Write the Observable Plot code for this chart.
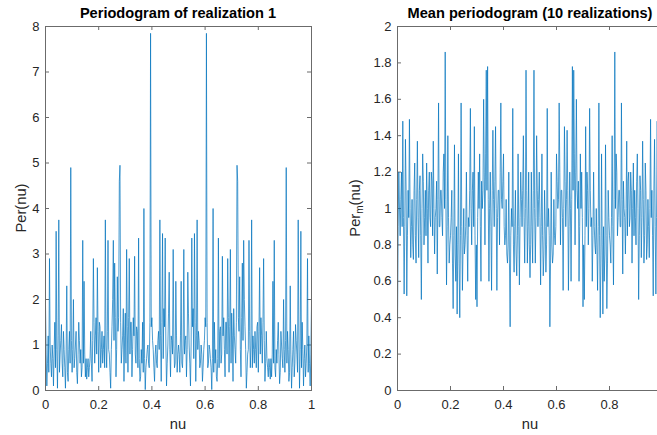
<!DOCTYPE html>
<html><head><meta charset="utf-8">
<script src="https://cdn.jsdelivr.net/npm/d3@7"></script>
<script src="https://cdn.jsdelivr.net/npm/@observablehq/plot@0.6"></script>
<style>
body{margin:0;background:#fff;}
#wrap{position:relative;width:657px;height:435px;overflow:hidden;font-family:"Liberation Sans",Arial,sans-serif;color:#262626;background:#fff;}
.pl{position:absolute;top:0;}
.pl svg{max-width:none !important;}
.title{position:absolute;top:5px;font-weight:bold;font-size:14.6px;color:#000;white-space:nowrap;transform:translateX(-50%);}
.xl{position:absolute;font-size:14.7px;transform:translate(-50%,-50%);white-space:nowrap;}
.yl{position:absolute;font-size:14.7px;transform:translate(-50%,-50%) rotate(-90deg);white-space:nowrap;}
.yl sub{font-size:10px;}
</style></head><body><div id="wrap">
<div class="pl" id="p1" style="left:0;width:330px"></div>
<div class="pl" id="p2" style="left:330px;width:340px"></div>
<div class="title" style="left:178px">Periodogram of realization 1</div>
<div class="title" style="left:530px">Mean periodogram (10 realizations)</div>
<div class="xl" style="left:178px;top:424px">nu</div>
<div class="xl" style="left:530px;top:424px">nu</div>
<div class="yl" style="left:21px;top:208px">Per(nu)</div>
<div class="yl" style="left:356px;top:208px">Per<sub>m</sub>(nu)</div>
</div>
<script>
// frequency grid step (nu from 0 to 1)
const nuStep = 0.0025;

// Periodogram of realization 1, nu = 0 ... 0.5
const perRealization1Low = [
 1.9,0.8,0.1,0.6,1.2,0.4,2.9,1.0,0.6,0.3,
 1.0,0.7,0.1,0.9,1.5,0.5,3.5,0.9,0.05,1.2,
 3.75,0.4,0.8,1.1,1.45,0.6,0.3,1.3,0.9,0.5,
 0.05,0.8,2.3,0.4,0.2,0.9,1.3,0.6,4.9,1.1,
 0.4,0.9,2.0,0.5,0.7,1.0,1.3,0.4,0.15,0.8,
 1.5,1.1,0.6,0.9,0.3,0.5,3.3,0.6,2.4,0.8,
 0.3,0.7,0.25,0.5,0.7,0.3,0.5,0.7,1.3,0.6,
 0.2,1.1,2.9,1.5,0.6,1.2,1.6,0.8,2.7,1.3,
 0.4,1.5,1.4,0.5,0.9,1.3,0.6,0.9,1.2,0.5,
 3.75,1.0,0.5,1.3,3.3,0.9,0.8,0.4,0.05,0.9,
 1.4,2.0,3.3,1.1,2.8,1.6,0.3,0.9,2.5,1.3,
 1.6,4.6,4.95,1.5,0.6,0.9,1.2,1.8,0.2,1.2,
 1.7,0.6,3.1,1.4,0.4,1.6,2.9,0.8,1.5,1.5,
 0.3,0.9,1.6,1.2,2.95,0.8,0.6,1.4,1.3,0.5,
 3.35,0.7,0.2,0.3,0.9,0.6,1.5,0.4,4.0,0.7,
 0.02,0.5,0.7,0.9,1.0,0.6,0.5,1.5,7.85,1.4,
 1.6,1.1,0.9,0.5,0.2,0.8,1.0,0.6,0.5,1.1,
 1.3,0.9,3.75,1.2,0.2,1.5,3.45,0.7,1.8,1.4,
 3.35,1.0,0.1,0.6,1.0,1.7,2.6,0.9,0.3,1.2,
 1.1,0.8,3.1,1.0,0.5,0.6,2.4,1.2,0.4,0.8,
 1.0
];
// Periodogram of realization 1, nu = 0.5025 ... 1
const perRealization1High = [
 0.8,0.4,1.2,2.4,0.6,0.5,1.0,3.1,0.8,1.1,
 1.2,0.3,0.9,2.6,1.7,1.0,0.6,0.1,1.0,3.35,
 1.4,1.8,0.7,3.45,1.5,0.2,1.2,3.75,0.9,1.3,
 1.1,0.5,0.6,1.0,0.8,0.2,0.5,0.9,1.1,1.6,
 1.4,7.85,1.5,0.5,0.6,1.0,0.9,0.7,0.5,0.02,
 0.7,4.0,0.4,1.5,0.6,0.9,0.3,0.2,0.7,3.35,
 0.5,1.3,1.4,0.6,0.8,2.95,1.2,1.6,0.9,0.3,
 1.5,1.5,0.8,2.9,1.6,0.4,1.4,3.1,0.6,1.7,
 1.2,0.2,1.8,1.2,0.9,0.6,1.5,4.95,4.6,1.6,
 1.3,2.5,0.9,0.3,1.6,2.8,1.1,3.3,2.0,1.4,
 0.9,0.05,0.4,0.8,0.9,3.3,1.3,0.5,1.0,3.75,
 0.5,1.2,0.9,0.6,1.3,0.9,0.5,1.4,1.5,0.4,
 1.3,2.7,0.8,1.6,1.2,0.6,1.5,2.9,1.1,0.2,
 0.6,1.3,0.7,0.5,0.3,0.7,0.5,0.25,0.7,0.3,
 0.8,2.4,0.6,3.3,0.5,0.3,0.9,0.6,1.1,1.5,
 0.8,0.15,0.4,1.3,1.0,0.7,0.5,2.0,0.9,0.4,
 1.1,4.9,0.6,1.3,0.9,0.2,0.4,2.3,0.8,0.05,
 0.5,0.9,1.3,0.3,0.6,1.45,1.1,0.8,0.4,3.75,
 1.2,0.05,0.9,3.5,0.5,1.5,0.9,0.1,0.7,1.0,
 0.3,0.6,1.0,2.9,0.4,1.2,0.6,0.1,0.8,1.9
];

// Mean periodogram (10 realizations), nu = 0 ... 0.5
const perMeanLow = [
 0.33,0.9,1.2,1.0,0.85,1.05,1.2,0.9,1.48,0.95,
 0.53,0.9,1.38,1.1,0.52,0.85,1.1,0.95,1.49,1.0,
 0.73,0.9,1.05,0.8,0.72,1.1,1.25,0.85,0.7,1.05,
 1.37,0.95,0.73,1.1,1.18,0.85,0.5,1.0,1.3,1.15,
 0.8,0.95,1.1,0.85,1.25,1.0,0.7,1.1,1.2,0.95,
 0.9,1.2,1.15,0.85,1.37,1.0,0.75,0.95,1.0,1.15,
 0.64,1.05,1.58,0.9,0.9,1.1,1.1,0.95,0.85,1.2,
 1.3,1.0,1.86,1.05,0.58,0.9,1.4,0.95,0.7,0.8,
 0.85,0.95,1.1,0.7,0.45,0.85,1.35,0.75,0.6,0.9,
 0.42,0.8,1.3,0.7,0.4,0.85,1.58,0.9,0.55,0.8,
 1.0,0.75,0.8,0.9,1.2,0.85,0.6,0.95,0.9,1.1,
 1.55,1.0,0.8,1.1,1.2,0.9,1.45,0.85,0.5,0.8,
 0.46,0.95,1.2,1.0,1.3,0.9,0.6,1.15,1.0,1.1,
 1.6,1.2,0.8,1.3,1.76,1.1,1.78,1.05,0.6,1.0,
 1.2,0.9,0.55,1.1,1.43,1.05,0.9,1.15,1.45,1.0,
 0.55,0.95,1.1,1.1,0.8,1.2,1.58,1.05,1.0,1.15,
 1.3,0.9,0.8,0.85,1.05,0.75,0.7,0.8,1.2,0.7,
 0.35,0.85,1.0,0.9,1.55,0.8,0.65,0.9,1.1,0.75,
 0.63,0.85,1.3,0.9,0.58,0.95,1.2,1.05,0.9,1.1,
 1.4,0.95,0.7,1.0,1.76,1.1,0.7,0.9,1.2,0.8,
 0.62
];
// Mean periodogram (10 realizations), nu = 0.5025 ... 1
const perMeanHigh = [
 0.8,1.2,0.9,0.7,1.1,1.76,1.0,0.7,0.95,1.4,
 1.1,0.9,1.05,1.2,0.95,0.58,0.9,1.3,0.85,0.63,
 0.75,1.1,0.9,0.65,0.8,1.55,0.9,1.0,0.85,0.35,
 0.7,1.2,0.8,0.7,0.75,1.05,0.85,0.8,0.9,1.3,
 1.15,1.0,1.05,1.58,1.2,0.8,1.1,1.1,0.95,0.55,
 1.0,1.45,1.15,0.9,1.05,1.43,1.1,0.55,0.9,1.2,
 1.0,0.6,1.05,1.78,1.1,1.76,1.3,0.8,1.2,1.6,
 1.1,1.0,1.15,0.6,0.9,1.3,1.0,1.2,0.95,0.46,
 0.8,0.5,0.85,1.45,0.9,1.2,1.1,0.8,1.0,1.55,
 1.1,0.9,0.95,0.6,0.85,1.2,0.9,0.8,0.75,1.0,
 0.8,0.55,0.9,1.58,0.85,0.4,0.7,1.3,0.8,0.42,
 0.9,0.6,0.75,1.35,0.85,0.45,0.7,1.1,0.95,0.85,
 0.8,0.7,0.95,1.4,0.9,0.58,1.05,1.86,1.0,1.3,
 1.2,0.85,0.95,1.1,1.1,0.9,0.9,1.58,1.05,0.64,
 1.15,1.0,0.95,0.75,1.0,1.37,0.85,1.15,1.2,0.9,
 0.95,1.2,1.1,0.7,1.0,1.25,0.85,1.1,0.95,0.8,
 1.15,1.3,1.0,0.5,0.85,1.18,1.1,0.73,0.95,1.37,
 1.05,0.7,0.85,1.25,1.1,0.72,0.8,1.05,0.9,0.73,
 1.0,1.49,0.95,1.1,0.85,0.52,1.1,1.38,0.9,0.53,
 0.95,1.48,0.9,1.2,1.05,0.85,1.0,1.2,0.9,0.33
];

// tick values
const xTicksLeft = [0, 0.2, 0.4, 0.6, 0.8, 1];
const xTicksRight = [0, 0.2, 0.4, 0.6, 0.8];
const yTicksLeft = [0, 1, 2, 3, 4, 5, 6, 7, 8];
const yTicksRight = [0, 0.2, 0.4, 0.6, 0.8, 1, 1.2, 1.4, 1.6, 1.8, 2];

const toRows = arr => arr.map((v, i) => ({nu: i * nuStep, per: v}));
const rows1 = toRows(perRealization1Low.concat(perRealization1High));
const rows2 = toRows(perMeanLow.concat(perMeanHigh));

const font = '"Liberation Sans", Arial, sans-serif';
const axisColor = "#6b6b6b";
const lineColor = "#0072BD";

function panel({width, marginLeft, marginRight, yDomain, xTicks, yTicks, rows}) {
  const H = 435, mt = 26, mb = 45;
  const pw = width - marginLeft - marginRight;
  const ph = H - mt - mb;
  const tk = 4;
  return Plot.plot({
    width, height: H, marginLeft, marginRight, marginTop: mt, marginBottom: mb,
    style: {fontFamily: font, fontSize: "13px", color: "#262626", background: "transparent", overflow: "visible", maxWidth: "none"},
    x: {domain: [0, 1]},
    y: {domain: yDomain},
    marks: [
      Plot.axisX({ticks: xTicks, tickSize: 0, tickPadding: 9, label: null, tickFormat: d => String(d)}),
      Plot.axisY({ticks: yTicks, tickSize: 0, tickPadding: 6, label: null, tickFormat: d => String(d)}),
      Plot.tickX(xTicks, {x: d => d, stroke: axisColor, insetTop: ph - tk}),
      Plot.tickX(xTicks, {x: d => d, stroke: axisColor, insetBottom: ph - tk}),
      Plot.tickY(yTicks, {y: d => d, stroke: axisColor, insetRight: pw - tk}),
      Plot.tickY(yTicks, {y: d => d, stroke: axisColor, insetLeft: pw - tk}),
      Plot.line(rows, {x: "nu", y: "per", stroke: lineColor, strokeWidth: 0.7}),
      Plot.frame({stroke: axisColor})
    ]
  });
}

document.getElementById("p1").append(panel({
  width: 330, marginLeft: 45, marginRight: 19, yDomain: [0, 8],
  xTicks: xTicksLeft, yTicks: yTicksLeft, rows: rows1
}));
document.getElementById("p2").append(panel({
  width: 340, marginLeft: 67, marginRight: 8, yDomain: [0, 2],
  xTicks: xTicksRight, yTicks: yTicksRight, rows: rows2
}));
</script>
</body></html>
